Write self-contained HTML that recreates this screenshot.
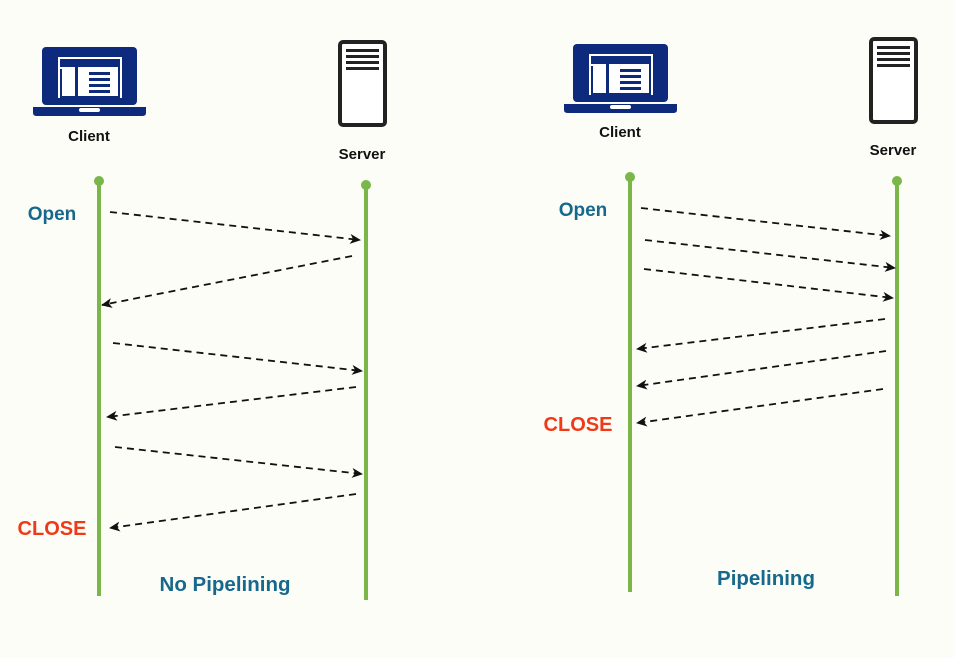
<!DOCTYPE html>
<html><head><style>body{margin:0;background:#fdfdf8}svg{display:block}text{font-family:"Liberation Sans",sans-serif;font-weight:bold}</style></head>
<body>
<svg width="954" height="658" viewBox="0 0 954 658">
<defs><marker id="a" markerWidth="12" markerHeight="10" refX="10" refY="5" orient="auto" markerUnits="userSpaceOnUse"><path d="M0,0 L11,5 L0,10 L3,5 Z" fill="#111"/></marker></defs>
<g id="laptop">
<rect x="42" y="47" width="95" height="58" rx="4" fill="#0e2a7c"/>
<rect x="58" y="57" width="64" height="41" fill="#fff"/>
<rect x="60" y="59" width="60" height="8" fill="#0e2a7c"/>
<rect x="60" y="69" width="2" height="28" fill="#0e2a7c"/>
<rect x="75" y="67" width="3" height="31" fill="#0e2a7c"/>
<rect x="118" y="67" width="2" height="31" fill="#0e2a7c"/>
<rect x="60" y="96" width="60" height="2" fill="#0e2a7c"/>
<rect x="89" y="72" width="21" height="3" fill="#0e2a7c"/><rect x="89" y="78" width="21" height="3" fill="#0e2a7c"/><rect x="89" y="84" width="21" height="3" fill="#0e2a7c"/><rect x="89" y="90" width="21" height="3" fill="#0e2a7c"/>
<path d="M33,107 L146,107 L146,113 Q146,116 142,116 L37,116 Q33,116 33,113 Z" fill="#0e2a7c"/>
<rect x="79" y="108" width="21" height="4" rx="2" fill="#fff"/>
</g>
<use href="#laptop" transform="translate(531,-3)"/>
<g id="server">
<rect x="340" y="42" width="45" height="83" rx="3" fill="#fff" stroke="#222" stroke-width="4"/>
<rect x="346" y="49" width="33" height="3" fill="#222"/><rect x="346" y="55" width="33" height="3" fill="#222"/><rect x="346" y="61" width="33" height="3" fill="#222"/><rect x="346" y="67" width="33" height="3" fill="#222"/>
</g>
<use href="#server" transform="translate(531,-3)"/>
<g font-size="15" fill="#111" text-anchor="middle">
<text x="89" y="141">Client</text><text x="362" y="159">Server</text>
<text x="620" y="137">Client</text><text x="893" y="155">Server</text>
</g>
<g stroke="#7ab648" stroke-width="4">
<line x1="99" y1="181" x2="99" y2="596"/><line x1="366" y1="185" x2="366" y2="600"/>
<line x1="630" y1="177" x2="630" y2="592"/><line x1="897" y1="181" x2="897" y2="596"/>
</g>
<g fill="#7ab648"><circle cx="99" cy="181" r="5"/><circle cx="366" cy="185" r="5"/><circle cx="630" cy="177" r="5"/><circle cx="897" cy="181" r="5"/></g>
<g stroke="#111" stroke-width="1.8" stroke-dasharray="7,5" marker-end="url(#a)">
<line x1="110" y1="212" x2="360" y2="240"/>
<line x1="352" y1="256" x2="102" y2="305"/>
<line x1="113" y1="343" x2="362" y2="371"/>
<line x1="356" y1="387" x2="107" y2="417"/>
<line x1="115" y1="447" x2="362" y2="474"/>
<line x1="356" y1="494" x2="110" y2="528"/>
<line x1="641" y1="208" x2="890" y2="236"/>
<line x1="645" y1="240" x2="895" y2="268"/>
<line x1="644" y1="269" x2="893" y2="298"/>
<line x1="885" y1="319" x2="637" y2="349"/>
<line x1="886" y1="351" x2="637" y2="386"/>
<line x1="883" y1="389" x2="637" y2="423"/>
</g>
<g text-anchor="middle">
<text x="52" y="220" font-size="19" fill="#16698c">Open</text>
<text x="583" y="216" font-size="19" fill="#16698c">Open</text>
<text x="52" y="535" font-size="20" fill="#f03a17">CLOSE</text>
<text x="578" y="431" font-size="20" fill="#f03a17">CLOSE</text>
<text x="225" y="591" font-size="20.5" fill="#16698c">No Pipelining</text>
<text x="766" y="585" font-size="20.5" fill="#16698c">Pipelining</text>
</g>
</svg>
</body></html>
